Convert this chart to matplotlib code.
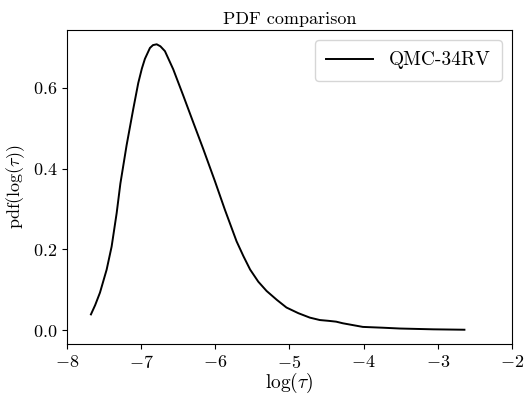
import numpy as np
import matplotlib
matplotlib.use('Agg')
import matplotlib.pyplot as plt

plt.rcParams['font.family'] = 'serif'
plt.rcParams['font.serif'] = ['cmr10']
plt.rcParams['mathtext.fontset'] = 'cm'
plt.rcParams['axes.formatter.use_mathtext'] = True

# log(tau) values and the pdf
log_tau = [-7.677, -7.62, -7.555, -7.465, -7.398, -7.330, -7.280, -7.196, -7.106, -7.039,
           -6.99, -6.949, -6.881, -6.84, -6.79, -6.74, -6.679, -6.567, -6.432, -6.298,
           -6.163, -6.005, -5.87, -5.713, -5.62, -5.53, -5.42, -5.308, -5.17, -5.04,
           -4.88, -4.725, -4.59, -4.47, -4.37, -4.28, -4.19, -4.01, -3.74, -3.51,
           -3.06, -2.64]
pdf = [0.039, 0.062, 0.093, 0.150, 0.207, 0.290, 0.363, 0.458, 0.548, 0.612,
       0.648, 0.672, 0.699, 0.706, 0.708, 0.703, 0.691, 0.646, 0.581, 0.515,
       0.449, 0.369, 0.298, 0.220, 0.183, 0.150, 0.120, 0.097, 0.075, 0.056,
       0.042, 0.031, 0.025, 0.023, 0.021, 0.017, 0.014, 0.008, 0.006, 0.004,
       0.002, 0.001]

fig = plt.figure(figsize=(5.25, 3.96), dpi=100)
ax = fig.add_axes([0.1276, 0.1313, 0.8474, 0.7929])
ax.plot(log_tau, pdf, color='black', lw=1.4, label='QMC-34RV')
ax.set_xlim(-8, -2)
ax.set_xticks([-8, -7, -6, -5, -4, -3, -2])
ax.set_yticks([0.0, 0.2, 0.4, 0.6])
ax.set_xlabel(r'$\log(\tau)$', fontsize=14, labelpad=0)
ax.set_ylabel(r'pdf$(\log(\tau))$', fontsize=13)
ax.set_title('PDF comparison', fontsize=13, pad=4)
ax.tick_params(labelsize=13)
ax.legend(loc='upper right', fontsize=14, fancybox=True, handlelength=2.4, borderpad=0.6)

fig.savefig('out.png', dpi=100)
